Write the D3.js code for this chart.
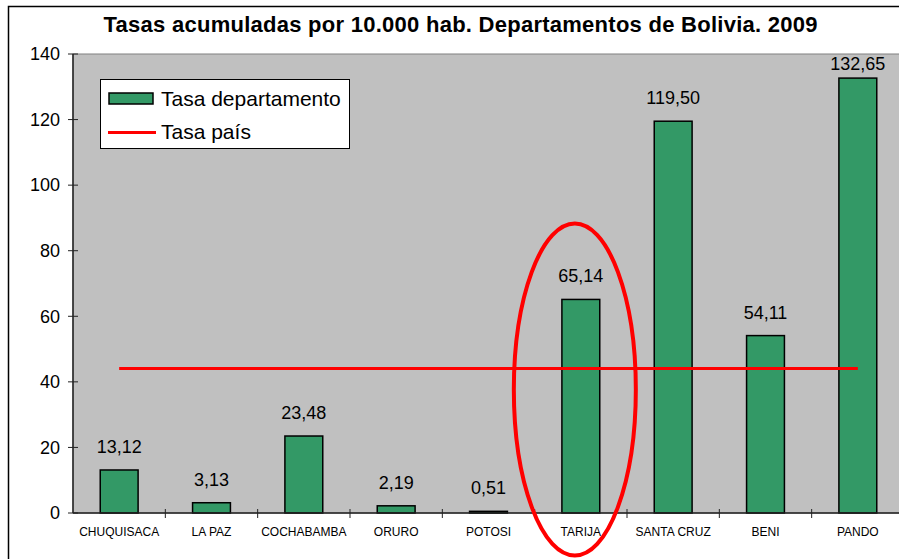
<!DOCTYPE html>
<html>
<head>
<meta charset="utf-8">
<script src="https://cdn.jsdelivr.net/npm/d3@7"></script>
<style>
  body { margin: 0; background: #fff; }
  svg { display: block; font-family: "Liberation Sans", Arial, sans-serif; }
</style>
</head>
<body>
<svg id="chart" width="899" height="559"></svg>
<script>
// -- data -- //
const categories = ['CHUQUISACA', 'LA PAZ', 'COCHABAMBA', 'ORURO', 'POTOSI', 'TARIJA', 'SANTA CRUZ', 'BENI', 'PANDO'];
const tasaDepartamento = [13.12, 3.13, 23.48, 2.19, 0.51, 65.14, 119.50, 54.11, 132.65];
const tasaPais = 44.1;
const yTicks = [0, 20, 40, 60, 80, 100, 120, 140];
const highlighted = 'TARIJA';

const svg = d3.select('#chart');
const plotLeft = 73, plotTop = 54, plotBottom = 513, plotRight = 904;

const locale = d3.formatLocale({decimal: ',', thousands: '.', grouping: [3], currency: ['', '']});
const fmt = locale.format('.2f');

const xScale = d3.scaleBand()
    .domain(categories)
    .range([plotLeft, plotRight])
    .paddingInner(0.59)
    .paddingOuter(0.295);

const yScale = d3.scaleLinear()
    .domain([0, 140])
    .range([plotBottom, plotTop]);

// -- outer frame -- //
svg.append('rect')
    .attr('x', 8.5).attr('y', 6.5)
    .attr('width', 1000).attr('height', 1000)
    .style('fill', 'white')
    .style('stroke', 'black')
    .style('stroke-width', 1.5);

// -- title -- //
svg.append('text')
    .attr('x', 460.5).attr('y', 32)
    .attr('text-anchor', 'middle')
    .attr('textLength', 714)
    .attr('lengthAdjust', 'spacing')
    .style('font-size', '22px')
    .style('font-weight', 'bold')
    .text('Tasas acumuladas por 10.000 hab. Departamentos de Bolivia. 2009');

// -- plot area -- //
svg.append('rect')
    .attr('x', plotLeft).attr('y', plotTop)
    .attr('width', plotRight - plotLeft).attr('height', plotBottom - plotTop)
    .style('fill', '#c0c0c0')
    .style('stroke', '#808080')
    .style('stroke-width', 1);

// -- y axis -- //
const yAxis = svg.append('g').attr('transform', `translate(${plotLeft},0)`);
yAxis.append('line')
    .attr('x1', 0).attr('x2', 0)
    .attr('y1', plotTop).attr('y2', plotBottom)
    .style('stroke', '#222').style('stroke-width', 1.5);
yAxis.selectAll('.ytick')
    .data(yTicks)
    .enter().append('line')
    .attr('class', 'ytick')
    .attr('x1', -5).attr('x2', 5)
    .attr('y1', d => yScale(d)).attr('y2', d => yScale(d))
    .style('stroke', '#222').style('stroke-width', 1);
yAxis.selectAll('.ylabel')
    .data(yTicks)
    .enter().append('text')
    .attr('class', 'ylabel')
    .attr('x', -13)
    .attr('y', d => yScale(d))
    .attr('dy', '0.35em')
    .attr('text-anchor', 'end')
    .style('font-size', '18px')
    .text(d => d);

// -- bars -- //
svg.selectAll('.bar')
    .data(categories)
    .enter().append('rect')
    .attr('class', 'bar')
    .attr('x', d => xScale(d))
    .attr('y', (d, i) => yScale(tasaDepartamento[i]))
    .attr('width', xScale.bandwidth())
    .attr('height', (d, i) => plotBottom - yScale(tasaDepartamento[i]))
    .style('fill', '#339966')
    .style('stroke', 'black')
    .style('stroke-width', 1.5);

// -- x axis -- //
const step = xScale.step();
svg.append('line')
    .attr('x1', plotLeft).attr('x2', plotRight)
    .attr('y1', plotBottom).attr('y2', plotBottom)
    .style('stroke', '#222').style('stroke-width', 1.5);
svg.selectAll('.xtick')
    .data(categories.slice(1))
    .enter().append('line')
    .attr('class', 'xtick')
    .attr('x1', d => xScale(d) - step * 0.295).attr('x2', d => xScale(d) - step * 0.295)
    .attr('y1', plotBottom - 4).attr('y2', plotBottom + 5)
    .style('stroke', '#222').style('stroke-width', 1);
svg.selectAll('.xlabel')
    .data(categories)
    .enter().append('text')
    .attr('class', 'xlabel')
    .attr('x', d => xScale(d) + xScale.bandwidth() / 2)
    .attr('y', 536)
    .attr('text-anchor', 'middle')
    .style('font-size', '12px')
    .text(d => d);

// -- value labels -- //
svg.selectAll('.value')
    .data(categories)
    .enter().append('text')
    .attr('class', 'value')
    .attr('x', d => xScale(d) + xScale.bandwidth() / 2)
    .attr('y', (d, i) => Math.max(yScale(tasaDepartamento[i]) - 17, plotTop + 16))
    .attr('text-anchor', 'middle')
    .style('font-size', '18px')
    .text((d, i) => fmt(tasaDepartamento[i]));

// -- national rate line -- //
svg.append('line')
    .attr('x1', xScale(categories[0]) + xScale.bandwidth() / 2)
    .attr('x2', xScale(categories[categories.length - 1]) + xScale.bandwidth() / 2)
    .attr('y1', yScale(tasaPais)).attr('y2', yScale(tasaPais))
    .style('stroke', '#ff0000')
    .style('stroke-width', 3);

// -- legend -- //
const legend = svg.append('g').attr('transform', 'translate(100,79)');
legend.append('rect')
    .attr('x', 0.5).attr('y', 0.5)
    .attr('width', 249).attr('height', 69)
    .style('fill', 'white')
    .style('stroke', 'black')
    .style('stroke-width', 1);
legend.append('rect')
    .attr('x', 9).attr('y', 14)
    .attr('width', 44).attr('height', 11)
    .style('fill', '#339966')
    .style('stroke', 'black')
    .style('stroke-width', 1.5);
legend.append('text')
    .attr('x', 61).attr('y', 27)
    .style('font-size', '21px')
    .text('Tasa departamento');
legend.append('line')
    .attr('x1', 8).attr('x2', 56)
    .attr('y1', 53.5).attr('y2', 53.5)
    .style('stroke', '#ff0000')
    .style('stroke-width', 3);
legend.append('text')
    .attr('x', 61).attr('y', 60)
    .style('font-size', '21px')
    .text('Tasa país');

// -- highlight ellipse around Tarija (drawn slightly left of the bar, as in the original) -- //
svg.append('ellipse')
    .attr('cx', xScale(highlighted) + xScale.bandwidth() / 2 - 6)
    .attr('cy', 389.5)
    .attr('rx', 61)
    .attr('ry', 166)
    .style('fill', 'none')
    .style('stroke', '#ff0000')
    .style('stroke-width', 4);
</script>
</body>
</html>
